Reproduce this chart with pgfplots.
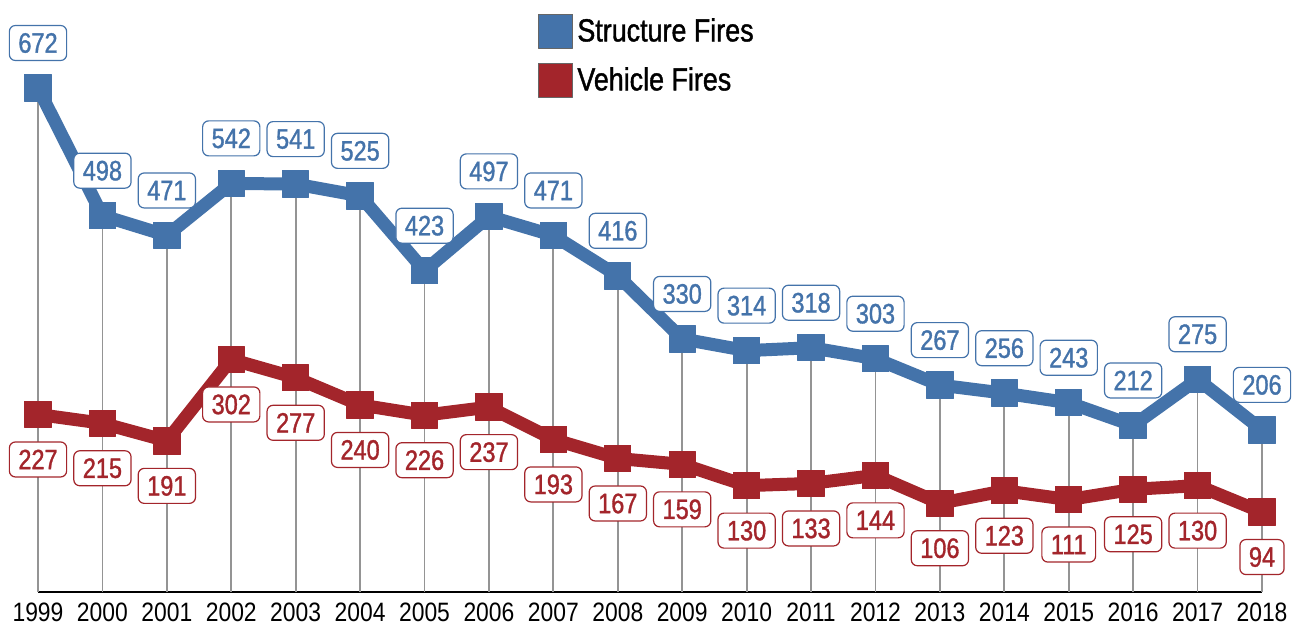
\documentclass[border=0pt]{standalone}
\usepackage{fontspec}
\setmainfont{Liberation Sans}
\newfontfamily\cond[FakeStretch=0.86]{Liberation Sans}
\newfontfamily\condb[FakeStretch=0.84,FakeBold=1.2]{Liberation Sans}
\usepackage{pgfplots}
\pgfplotsset{compat=1.18}
\definecolor{sblue}{HTML}{4473AA}
\definecolor{vred}{HTML}{A3252B}
\begin{document}
\begin{tikzpicture}
\useasboundingbox (-19pt,-18pt) rectangle (628pt,296pt);
\begin{axis}[at={(0,0)},anchor=south west,scale only axis,width=612pt,height=252pt,
  xmin=1999,xmax=2018,ymin=-15,ymax=672,clip=false,
  axis y line=none,axis x line*=bottom,
  x axis line style={black,line width=1pt},
  xtick={1999,2000,2001,2002,2003,2004,2005,2006,2007,2008,2009,2010,2011,2012,2013,2014,2015,2016,2017,2018},
  xticklabels={1999,2000,2001,2002,2003,2004,2005,2006,2007,2008,2009,2010,2011,2012,2013,2014,2015,2016,2017,2018},
  xticklabel style={font=\cond\fontsize{13.3}{13.3}\selectfont,text=black,yshift=-2pt},
  major tick length=0pt,
  legend style={at={(0.4085,1.148)},anchor=north west,draw=none,fill=none,inner sep=0pt,
    font=\condb\fontsize{16}{16}\selectfont,row sep=7pt},
  legend cell align=left,
  reverse legend,
  nodes near coords style={/pgf/number format/assume math mode=true},
]
% gray drop lines
\addplot[forget plot,black!42,line width=0.9pt,unbounded coords=jump] coordinates {
(1999,-15) (1999,672) (1999,nan)
(2000,-15) (2000,498) (2000,nan)
(2001,-15) (2001,471) (2001,nan)
(2002,-15) (2002,542) (2002,nan)
(2003,-15) (2003,541) (2003,nan)
(2004,-15) (2004,525) (2004,nan)
(2005,-15) (2005,423) (2005,nan)
(2006,-15) (2006,497) (2006,nan)
(2007,-15) (2007,471) (2007,nan)
(2008,-15) (2008,416) (2008,nan)
(2009,-15) (2009,330) (2009,nan)
(2010,-15) (2010,314) (2010,nan)
(2011,-15) (2011,318) (2011,nan)
(2012,-15) (2012,303) (2012,nan)
(2013,-15) (2013,267) (2013,nan)
(2014,-15) (2014,256) (2014,nan)
(2015,-15) (2015,243) (2015,nan)
(2016,-15) (2016,212) (2016,nan)
(2017,-15) (2017,275) (2017,nan)
(2018,-15) (2018,206)};
% vehicle fires
\addplot[vred,line width=6.5pt,line join=round,mark=square*,mark size=6.6pt,
  mark options={solid,line width=0.5pt,rounded corners=2.5pt},
  legend image code/.code={\draw[draw=black!60,line width=0.5pt,fill=vred] (0pt,-8.5pt) rectangle (17pt,8.5pt);},
  nodes near coords,
  every node near coord/.append style={anchor=center,yshift=-22.5pt,
    font=\condb\fontsize{14}{14}\selectfont,text=vred,draw=vred,fill=white,
    rounded corners=3pt,line width=0.6pt,inner xsep=4.5pt,inner ysep=0pt,minimum height=17.5pt}]
coordinates {(1999,227) (2000,215) (2001,191) (2002,302) (2003,277) (2004,240) (2005,226) (2006,237) (2007,193) (2008,167) (2009,159) (2010,130) (2011,133) (2012,144) (2013,106) (2014,123) (2015,111) (2016,125) (2017,130) (2018,94)};
\addlegendentry{Vehicle Fires}
% structure fires
\addplot[sblue,line width=6.5pt,line join=round,mark=square*,mark size=6.6pt,
  mark options={solid,line width=0.5pt,rounded corners=2.5pt},
  legend image code/.code={\draw[draw=black!60,line width=0.5pt,fill=sblue] (0pt,-8.5pt) rectangle (17pt,8.5pt);},
  nodes near coords,
  every node near coord/.append style={anchor=center,yshift=22.5pt,
    font=\condb\fontsize{14}{14}\selectfont,text=sblue,draw=sblue,fill=white,
    rounded corners=3pt,line width=0.6pt,inner xsep=4.5pt,inner ysep=0pt,minimum height=17.5pt}]
coordinates {(1999,672) (2000,498) (2001,471) (2002,542) (2003,541) (2004,525) (2005,423) (2006,497) (2007,471) (2008,416) (2009,330) (2010,314) (2011,318) (2012,303) (2013,267) (2014,256) (2015,243) (2016,212) (2017,275) (2018,206)};
\addlegendentry{Structure Fires}
\end{axis}
\end{tikzpicture}
\end{document}
